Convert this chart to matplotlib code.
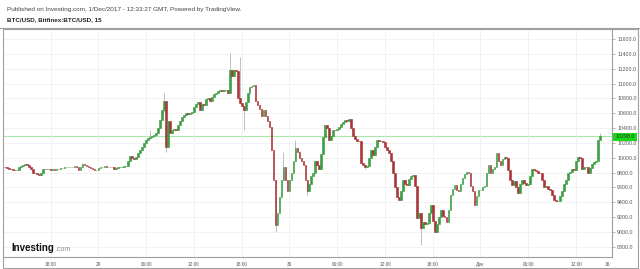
import matplotlib.pyplot as plt
from matplotlib.patches import Rectangle
from matplotlib.lines import Line2D

plt.rcParams['font.family'] = ['Liberation Sans', 'DejaVu Sans']

# 15 min candles, BTC/USD Bitfinex (closes)
closes = [
    9870, 9860, 9850, 9845, 9835, 9830, 9840, 9870, 9890, 9905,
    9915, 9900, 9880, 9850, 9800, 9790, 9780, 9770, 9790, 9850,
    9855, 9845, 9850, 9840, 9845, 9840, 9850, 9845, 9860, 9865,
    9870, 9875, 9870, 9880, 9875, 9885, 9870, 9830, 9880, 9920,
    9900, 9890, 9875, 9860, 9850, 9840, 9835, 9860, 9875, 9880,
    9885, 9870, 9880, 9875, 9870, 9850, 9860, 9870, 9875, 9880,
    9890, 9895, 9960, 10030, 10000, 9990, 10010, 10060, 10100, 10140,
    10200, 10240, 10260, 10280, 10290, 10310, 10330, 10400, 10510, 10640,
    10760, 10150, 10500, 10330, 10370, 10390, 10380, 10440, 10500, 10550,
    10580, 10600, 10590, 10610, 10620, 10690, 10720, 10750, 10650, 10720,
    10710, 10790, 10800, 10760, 10820, 10860, 10880, 10900, 10910, 10905,
    10915, 10920, 10870, 11184, 11110, 11190, 11170, 10800, 10740, 10700,
    10640, 10750, 10870, 10960, 10975, 10980, 10760, 10710, 10660, 10560,
    10640, 10560, 10490, 10420, 10100, 9700, 9090, 9250, 9470, 9700,
    9880, 9700, 9545, 9700, 9790, 9950, 10130, 10080, 10000, 9950,
    9900, 9700, 9550, 9650, 9750, 9800, 9960, 9900, 9850, 10050,
    10280, 10440, 10400, 10240, 10300, 10380, 10370, 10390, 10420, 10450,
    10480, 10510, 10500, 10520, 10400, 10290, 10250, 10230, 10220, 9925,
    9900, 9880, 9890, 10000, 10100, 10040, 10150, 10240, 10220, 10230,
    10210, 10150, 10100, 10060, 9960, 9800, 9600, 9475, 9430, 9550,
    9700, 9650, 9630, 9720, 9760, 9770, 9620, 9190, 9250, 9050,
    9130, 9110, 9120, 9250, 9360, 9150, 9003, 9100, 9200, 9296,
    9220, 9200, 9140, 9300, 9500, 9580, 9632, 9560, 9545, 9640,
    9730, 9780, 9810, 9800, 9620, 9545, 9363, 9480, 9560, 9565,
    9610, 9620, 9800, 9900, 9800, 9850, 9880, 10060, 9950, 9900,
    9990, 10014, 10000, 9835, 9700, 9632, 9680, 9600, 9520, 9650,
    9700, 9660, 9630, 9640, 9750, 9850, 9840, 9820, 9800, 9790,
    9700, 9610, 9620, 9580, 9565, 9500, 9430, 9410, 9420, 9480,
    9545, 9640, 9700, 9800, 9810, 9850, 9840, 9950, 10014, 10000,
    9850, 9870, 9880, 9790, 9860, 9910, 9940, 9950, 10240, 10298,
]
first_open = 9880

# notable wicks: (bar, high, low)
wicks = [
    (39, 9935, 9870), (73, 10375, 10250), (80, 10880, 10620),
    (81, 10760, 10080), (113, 11410, 10870), (118, 11360, 10720),
    (120, 10700, 10375), (136, 9700, 9003), (140, 10080, 9700),
    (146, 10240, 9950), (152, 9700, 9500), (181, 9920, 9850),
    (209, 9250, 8823), (299, 10330, 10240),
]

last_price = 10298.0
price_ticks = list(range(8800, 11601, 200))
time_labels = ['18:00', '29', '06:00', '12:00', '18:00', '30',
               '06:00', '12:00', '18:00', 'Дек', '06:00', '12:00']
first_tick_bar = 23
bars_per_tick = 24

up_col = '#3d9e45'
down_col = '#a8353a'
wick_col = '#bfbfbf'

fig = plt.figure(figsize=(6.4, 2.69), dpi=100)
ax = fig.add_axes([4 / 640, 12 / 269, 608 / 640, 229 / 269])
ax.set_xlim(-0.45, 305.1)
ax.set_ylim(8661, 11751)

opens = [first_open] + closes[:-1]
idx = list(range(len(closes)))

# wicks
for i, hi, lo in wicks:
    ax.vlines(i, lo, hi, color=wick_col, lw=0.7, zorder=2)

# bodies
for i, o, c in zip(idx, opens, closes):
    col = up_col if c >= o else down_col
    ax.bar(i, abs(c - o), bottom=min(o, c), width=0.85, color=col,
           edgecolor=col, linewidth=0.45, zorder=3)

# last price line
ax.axhline(last_price, color='#a6e6a6', lw=0.8, zorder=1)

# grid / ticks
tick_pos = [first_tick_bar + bars_per_tick * k for k in range(len(time_labels))]
ax.set_xticks(tick_pos)
ax.set_xticklabels(time_labels)
ax.set_yticks(price_ticks)
ax.set_yticklabels([f'{p:.1f}' for p in price_ticks])
ax.yaxis.tick_right()
ax.grid(color='#f0f0f0', lw=0.6, zorder=0)
ax.tick_params(axis='y', length=2.2, width=0.5, color='#999999',
               labelsize=3.8, labelcolor='#555555', pad=1.5)
ax.tick_params(axis='x', length=0, labelsize=3.4, labelcolor='#555555', pad=3.5)
for s in ['top', 'left']:
    ax.spines[s].set_visible(False)
for s in ['right', 'bottom']:
    ax.spines[s].set_color('#9e9e9e')
    ax.spines[s].set_linewidth(0.8)

ax.text(303, -0.021, '16:', transform=ax.get_xaxis_transform(), ha='center',
        va='top', fontsize=3.4, color='#555555', clip_on=False)

# price box on the axis
H = 269
box = Rectangle((613 / 640, (H - 140.5) / H), 24 / 640, 8 / H,
                transform=fig.transFigure, facecolor='#19d619',
                edgecolor='none', zorder=5)
fig.add_artist(box)
fig.text(625 / 640, (H - 136.5) / H, f'{last_price:.1f}', ha='center',
         va='center', fontsize=3.8, color='#1a3a1a', zorder=6)

# frame
fig.add_artist(Rectangle((3 / 640, 1 / H), 635 / 640, 239 / H,
                         transform=fig.transFigure, fill=False,
                         edgecolor='#a0a0a0', lw=0.8))
fig.add_artist(Line2D([0, 1], [(H - 28) / H] * 2, transform=fig.transFigure,
                      color='#a0a0a0', lw=0.8))

# header
fig.text(7 / 640, (H - 9) / H,
         'Published on Investing.com, 1/Dec/2017 - 12:33:27 GMT, Powered by TradingView.',
         fontsize=4.6, color='#444444', va='center', ha='left')
fig.text(7 / 640, (H - 20) / H, 'BTC/USD, Bitfinex:BTC/USD, 15',
         fontsize=4.5, fontweight='bold', color='#222222', va='center', ha='left')

# logo
fig.text(11 / 640, (H - 251) / H, 'Investing', fontsize=7, fontweight='bold',
         color='#111111', va='baseline', ha='left')
fig.text(55.5 / 640, (H - 251) / H, '.com', fontsize=5, color='#8a8a8a',
         va='baseline', ha='left')

fig.savefig('out.png', dpi=100)
